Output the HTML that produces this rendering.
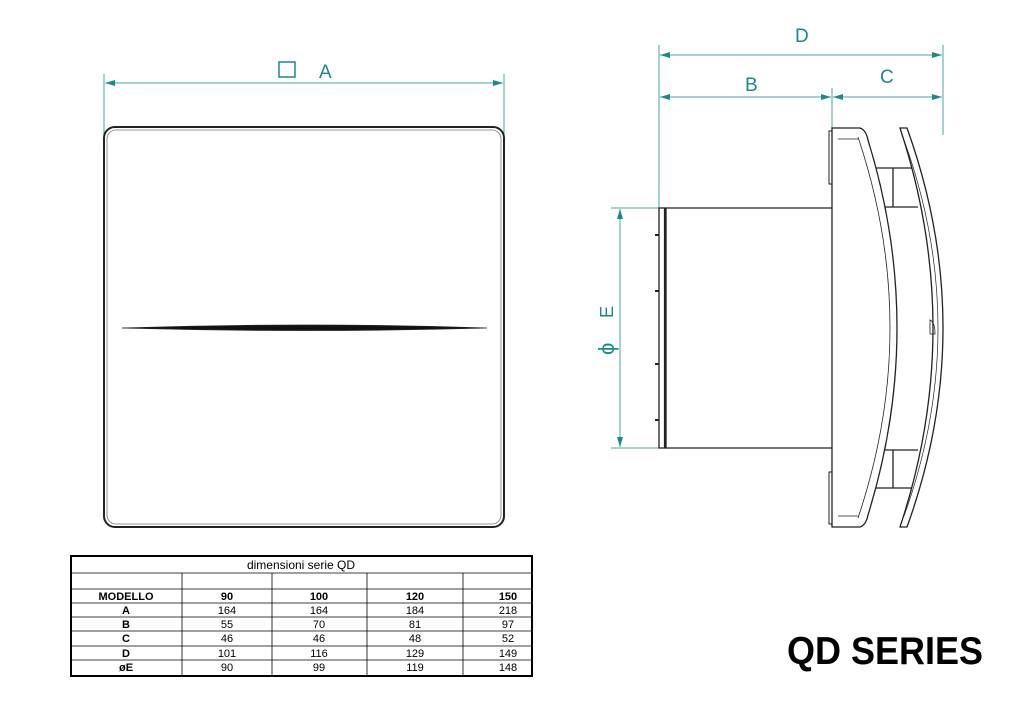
<!DOCTYPE html>
<html><head><meta charset="utf-8"><style>
html,body{margin:0;padding:0;background:#fff;}
svg{display:block;}
</style></head><body>
<svg width="1024" height="724" viewBox="0 0 1024 724" xmlns="http://www.w3.org/2000/svg" font-family="Liberation Sans, sans-serif">
<defs>
<marker id="ar" viewBox="0 0 10 6" refX="10" refY="3" markerWidth="16" markerHeight="6" markerUnits="userSpaceOnUse" orient="auto-start-reverse">
<path d="M0,0 L10,3 L0,6 z" fill="#1a8a85"/></marker>
</defs>
<g stroke="#4aa6a0" stroke-width="1" fill="none">
<line x1="104" y1="74" x2="104" y2="135"/>
<line x1="504" y1="74" x2="504" y2="135"/>
<line x1="105" y1="83" x2="503" y2="83" marker-start="url(#ar)" marker-end="url(#ar)"/>
<line x1="659" y1="45" x2="659" y2="210"/>
<line x1="943" y1="45" x2="943" y2="135"/>
<line x1="832" y1="88" x2="832" y2="130"/>
<line x1="660" y1="55" x2="942" y2="55" marker-start="url(#ar)" marker-end="url(#ar)"/>
<line x1="660" y1="97" x2="831" y2="97" marker-start="url(#ar)" marker-end="url(#ar)"/>
<line x1="833" y1="97" x2="942" y2="97" marker-start="url(#ar)" marker-end="url(#ar)"/>
<line x1="611" y1="208" x2="832" y2="208"/>
<line x1="611" y1="448" x2="832" y2="448"/>
<line x1="620" y1="209" x2="620" y2="447" marker-start="url(#ar)" marker-end="url(#ar)"/>
</g>
<g fill="#1a8a85" font-size="20">
<rect x="279" y="62" width="16" height="15" fill="none" stroke="#1a8a85" stroke-width="1.5"/>
<text x="319" y="78" font-size="19">A</text>
<text x="795" y="42" font-size="19">D</text>
<text x="745" y="91" font-size="19">B</text>
<text x="880" y="83" font-size="19">C</text>
<text transform="translate(613,318) rotate(-90)" font-size="18">E</text>
<text transform="translate(614,355) rotate(-90)" font-size="22">ϕ</text>
</g>
<g fill="none" stroke="#222">
<rect x="104" y="127" width="400" height="400" rx="11" stroke-width="2"/>
<rect x="107" y="130" width="394" height="394" rx="9" stroke-width="0.8" stroke="#777"/>
<path d="M122,328 Q305,322 487,328 Q305,333 122,328 z" fill="#111" stroke-width="0.8"/>
</g>
<g fill="none" stroke="#222" stroke-width="1.3">
<path d="M874,168 L912,168 M879,207 L918,207 M893,168 L893,207"/>
<path d="M879,450 L918,450 M874,488 L912,488 M893,450 L893,488"/>
<rect x="659" y="208" width="7" height="240" fill="#fff"/>
<line x1="665" y1="208" x2="665" y2="448" stroke-width="2.2"/>
<line x1="666" y1="208" x2="832" y2="208"/>
<line x1="666" y1="448" x2="832" y2="448"/>
<path d="M659,235 h-4 M659,291 h-4 M659,364 h-4 M659,420 h-4" stroke-width="2"/>
<path d="M832,128 L860,128 Q866,130 868,140 Q926,328 868,515 Q866,525 860,527 L832,527 z" fill="#fff"/>
<path d="M858,137 Q922,328 858,518" stroke-width="0.8"/>
<path d="M838,139 h20 M838,516 h20" stroke-width="0.7"/>
<rect x="829" y="131" width="3" height="53" stroke-width="1"/>
<rect x="829" y="472" width="3" height="52" stroke-width="1"/>
<path d="M900,128 L907,128 Q979,328 907,527 L900,527 Q966,328 900,128 z" fill="#fff"/>
<path d="M904,140 Q972,328 904,516" stroke-width="0.7"/>
<path d="M930,320 q5,2 5,14 l-5,0 z" stroke-width="0.8"/>
</g>
<g font-size="11" fill="#000">
<rect x="71" y="556" width="461" height="120" fill="none" stroke="#000" stroke-width="2"/>
<g stroke="#000" stroke-width="0.8">
<line x1="71" y1="573" x2="532" y2="573"/>
<line x1="71" y1="589" x2="532" y2="589"/>
<line x1="71" y1="603" x2="532" y2="603"/>
<line x1="71" y1="617" x2="532" y2="617"/>
<line x1="71" y1="631" x2="532" y2="631"/>
<line x1="71" y1="646" x2="532" y2="646"/>
<line x1="71" y1="660" x2="532" y2="660"/>
<line x1="182" y1="573" x2="182" y2="676"/>
<line x1="272" y1="573" x2="272" y2="676"/>
<line x1="367" y1="573" x2="367" y2="676"/>
<line x1="463" y1="573" x2="463" y2="676"/>
</g>
<text x="301" y="569" text-anchor="middle" font-size="12">dimensioni serie QD</text>
<g text-anchor="middle" font-weight="bold">
<text x="126" y="600">MODELLO</text><text x="227" y="600">90</text><text x="319" y="600">100</text><text x="415" y="600">120</text><text x="508" y="600">150</text>
<text x="126" y="614">A</text><text x="126" y="628">B</text><text x="126" y="642">C</text><text x="126" y="657">D</text><text x="126" y="671">øE</text>
</g>
<g text-anchor="middle">
<text x="227" y="614">164</text><text x="319" y="614">164</text><text x="415" y="614">184</text><text x="508" y="614">218</text>
<text x="227" y="628">55</text><text x="319" y="628">70</text><text x="415" y="628">81</text><text x="508" y="628">97</text>
<text x="227" y="642">46</text><text x="319" y="642">46</text><text x="415" y="642">48</text><text x="508" y="642">52</text>
<text x="227" y="657">101</text><text x="319" y="657">116</text><text x="415" y="657">129</text><text x="508" y="657">149</text>
<text x="227" y="671">90</text><text x="319" y="671">99</text><text x="415" y="671">119</text><text x="508" y="671">148</text>
</g>
</g>
<text x="787" y="664" font-size="39" font-weight="bold" textLength="196" lengthAdjust="spacingAndGlyphs">QD SERIES</text>
</svg>
</body></html>
